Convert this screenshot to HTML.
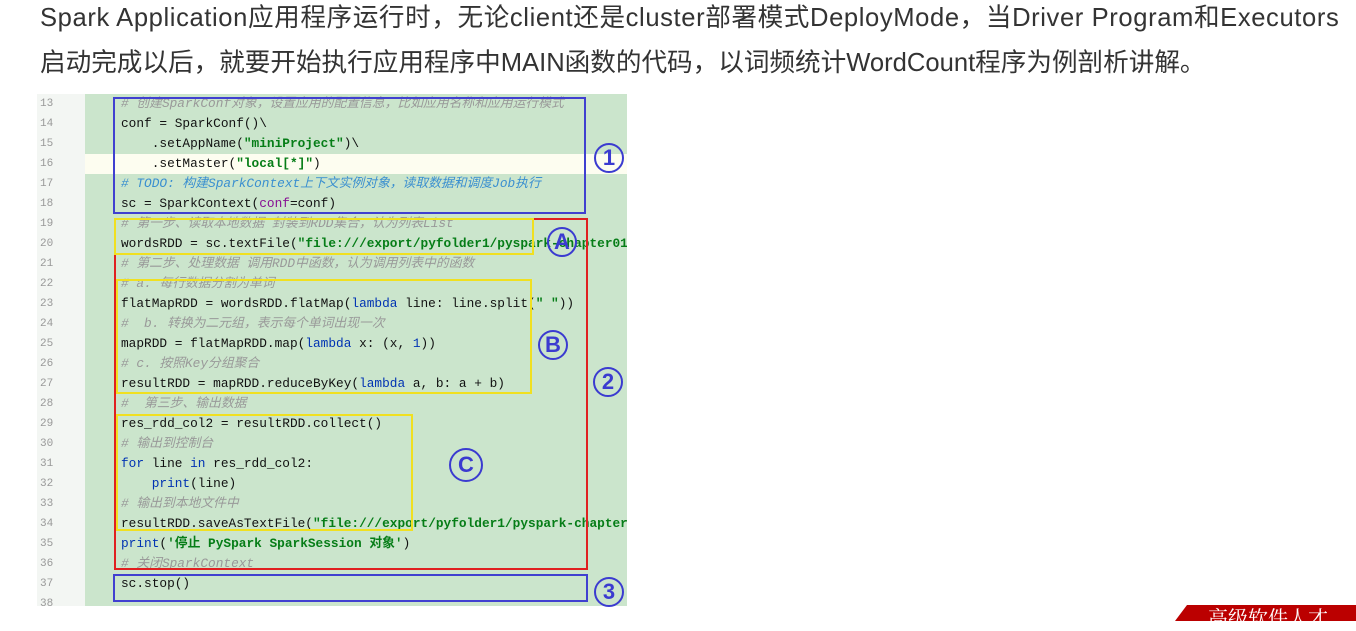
<!DOCTYPE html>
<html><head><meta charset="utf-8"><style>
body{margin:0;width:1356px;height:621px;background:#fff;overflow:hidden;position:relative;font-family:"Liberation Sans","Noto Sans CJK SC",sans-serif}
.p{position:absolute;left:40px;font-size:25.6px;color:#333;white-space:nowrap;line-height:30px}
.img{position:absolute;left:37px;top:94px;width:590px;height:512px;background:#cbe5cc;overflow:hidden}
.gut{position:absolute;left:0;top:0;width:48px;height:512px;background:#f3f6f3}
.ln{position:absolute;left:3px;font:11px "Liberation Mono",monospace;color:#999;line-height:20px}
.c{position:absolute;left:84px;font:12.8px "Liberation Mono","Noto Sans CJK SC",monospace;color:#111;white-space:pre;line-height:20px;height:20px}
.cm{color:#999;font-style:italic}
.td{color:#3a8fd0;font-style:italic}
.s{color:#067d17;font-weight:bold}
.k{color:#0033b3}
.pp{color:#871094}
.bx{position:absolute;box-sizing:border-box;border:2px solid}
.ci{position:absolute;width:26px;height:26px;border:2.5px solid #3b3bd0;border-radius:50%;color:#3b3bd0;font:bold 22px "Liberation Sans",sans-serif;text-align:center;line-height:26px}
</style></head><body>
<div class="p" style="top:3px;letter-spacing:0.6px">Spark Application应用程序运行时，无论client还是cluster部署模式DeployMode，当Driver Program和Executors</div>
<div class="p" style="top:48px">启动完成以后，就要开始执行应用程序中MAIN函数的代码，以词频统计WordCount程序为例剖析讲解。</div>
<div class="img">
<div class="gut"></div>
<div style="position:absolute;left:48px;top:60px;width:542px;height:20px;background:#fdfdf0"></div>
<div class="ln" style="top:0px">13</div><div class="ln" style="top:20px">14</div><div class="ln" style="top:40px">15</div><div class="ln" style="top:60px">16</div><div class="ln" style="top:80px">17</div><div class="ln" style="top:100px">18</div><div class="ln" style="top:120px">19</div><div class="ln" style="top:140px">20</div><div class="ln" style="top:160px">21</div><div class="ln" style="top:180px">22</div><div class="ln" style="top:200px">23</div><div class="ln" style="top:220px">24</div><div class="ln" style="top:240px">25</div><div class="ln" style="top:260px">26</div><div class="ln" style="top:280px">27</div><div class="ln" style="top:300px">28</div><div class="ln" style="top:320px">29</div><div class="ln" style="top:340px">30</div><div class="ln" style="top:360px">31</div><div class="ln" style="top:380px">32</div><div class="ln" style="top:400px">33</div><div class="ln" style="top:420px">34</div><div class="ln" style="top:440px">35</div><div class="ln" style="top:460px">36</div><div class="ln" style="top:480px">37</div><div class="ln" style="top:500px">38</div>
<div class="c cm" style="top:0px"># 创建SparkConf对象，设置应用的配置信息，比如应用名称和应用运行模式</div>
<div class="c" style="top:20px">conf = SparkConf()\</div>
<div class="c" style="top:40px">    .setAppName(<span class="s">"miniProject"</span>)\</div>
<div class="c" style="top:60px">    .setMaster(<span class="s">"local[*]"</span>)</div>
<div class="c td" style="top:80px"># TODO: 构建SparkContext上下文实例对象，读取数据和调度Job执行</div>
<div class="c" style="top:100px">sc = SparkContext(<span class="pp">conf</span>=conf)</div>
<div class="c cm" style="top:120px"># 第一步、读取本地数据 封装到RDD集合，认为列表List</div>
<div class="c" style="top:140px">wordsRDD = sc.textFile(<span class="s">"file:///export/pyfolder1/pyspark-chapter01</span></div>
<div class="c cm" style="top:160px"># 第二步、处理数据 调用RDD中函数，认为调用列表中的函数</div>
<div class="c cm" style="top:180px"># a. 每行数据分割为单词</div>
<div class="c" style="top:200px">flatMapRDD = wordsRDD.flatMap(<span class="k">lambda</span> line: line.split(<span class="s">" "</span>))</div>
<div class="c cm" style="top:220px">#  b. 转换为二元组，表示每个单词出现一次</div>
<div class="c" style="top:240px">mapRDD = flatMapRDD.map(<span class="k">lambda</span> x: (x, <span class="k">1</span>))</div>
<div class="c cm" style="top:260px"># c. 按照Key分组聚合</div>
<div class="c" style="top:280px">resultRDD = mapRDD.reduceByKey(<span class="k">lambda</span> a, b: a + b)</div>
<div class="c cm" style="top:300px">#  第三步、输出数据</div>
<div class="c" style="top:320px">res_rdd_col2 = resultRDD.collect()</div>
<div class="c cm" style="top:340px"># 输出到控制台</div>
<div class="c" style="top:360px"><span class="k">for</span> line <span class="k">in</span> res_rdd_col2:</div>
<div class="c" style="top:380px">    <span class="k">print</span>(line)</div>
<div class="c cm" style="top:400px"># 输出到本地文件中</div>
<div class="c" style="top:420px">resultRDD.saveAsTextFile(<span class="s">"file:///export/pyfolder1/pyspark-chapter</span></div>
<div class="c" style="top:440px"><span class="k">print</span>(<span class="s">'停止 PySpark SparkSession 对象'</span>)</div>
<div class="c cm" style="top:460px"># 关闭SparkContext</div>
<div class="c" style="top:480px">sc.stop()</div>
</div>
<div class="bx" style="left:113px;top:97px;width:473px;height:117px;border-color:#4040d0"></div>
<div class="bx" style="left:114px;top:218px;width:474px;height:352px;border-color:#e02020"></div>
<div class="bx" style="left:114px;top:218px;width:420px;height:37px;border-color:#f0e020"></div>
<div class="bx" style="left:116px;top:279px;width:416px;height:115px;border-color:#f0e020"></div>
<div class="bx" style="left:116px;top:414px;width:297px;height:117px;border-color:#f0e020"></div>
<div class="bx" style="left:113px;top:574px;width:475px;height:28px;border-color:#4040d0"></div>
<div class="ci" style="left:594px;top:143px">1</div>
<div class="ci" style="left:547px;top:227px">A</div>
<div class="ci" style="left:538px;top:330px">B</div>
<div class="ci" style="left:593px;top:367px">2</div>
<div class="ci" style="left:449px;top:448px;width:30px;height:30px;line-height:30px">C</div>
<div class="ci" style="left:594px;top:577px">3</div>
<div style="position:absolute;left:1175px;top:605px;width:181px;height:16px;background:#b00;clip-path:polygon(12px 0,100% 0,100% 100%,0 100%)"></div>
<div style="position:absolute;left:1208px;top:604px;color:#fff;font:20px 'Noto Serif CJK SC',serif;white-space:nowrap;line-height:26px">高级软件人才</div>
</body></html>
